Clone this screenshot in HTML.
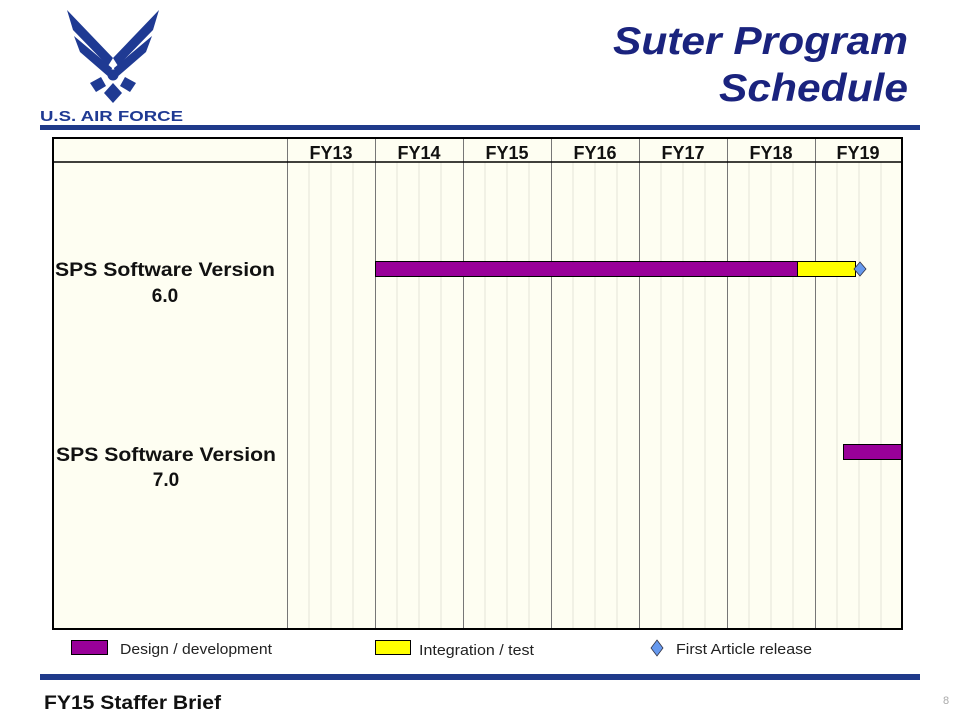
<!DOCTYPE html>
<html><head><meta charset="utf-8"><style>
html,body{margin:0;padding:0;background:#fff;}
svg{display:block;}
text{font-family:"Liberation Sans",Arial,sans-serif;}
</style></head><body>
<svg width="960" height="720" viewBox="0 0 960 720" xmlns="http://www.w3.org/2000/svg">
<!-- logo -->
<g fill="#1F3A93">
<polygon points="67,10 73,30 108,66 113,58"/>
<polygon points="74,36 80,52 110,78 112,68"/>
<polygon points="159,10 153,30 118,66 113,58"/>
<polygon points="152,36 146,52 116,78 114,68"/>
<circle cx="113" cy="75" r="5.5"/>
<polygon points="90,83 101,77 106,86 96,92"/>
<polygon points="136,83 125,77 120,86 130,92"/>
<polygon points="113,83 122,93 113,103 104,93"/>
</g>
<text x="40" y="121" font-size="15" font-weight="bold" fill="#1F3A93" textLength="143" lengthAdjust="spacingAndGlyphs">U.S. AIR FORCE</text>
<!-- title -->
<text x="613" y="54" font-size="39" font-weight="bold" font-style="italic" fill="#1A237E" textLength="295" lengthAdjust="spacingAndGlyphs">Suter Program</text>
<text x="719" y="101" font-size="39" font-weight="bold" font-style="italic" fill="#1A237E" textLength="189" lengthAdjust="spacingAndGlyphs">Schedule</text>
<rect x="40" y="125" width="880" height="5" fill="#1F3A8A"/>
<!-- table -->
<rect x="53" y="138" width="849" height="491" fill="#FEFEF2"/>
<g stroke="#E4E4D8" stroke-width="1">
<line x1="309" y1="162" x2="309" y2="629"/><line x1="331" y1="162" x2="331" y2="629"/><line x1="353" y1="162" x2="353" y2="629"/>
<line x1="397" y1="162" x2="397" y2="629"/><line x1="419" y1="162" x2="419" y2="629"/><line x1="441" y1="162" x2="441" y2="629"/>
<line x1="485" y1="162" x2="485" y2="629"/><line x1="507" y1="162" x2="507" y2="629"/><line x1="529" y1="162" x2="529" y2="629"/>
<line x1="573" y1="162" x2="573" y2="629"/><line x1="595" y1="162" x2="595" y2="629"/><line x1="617" y1="162" x2="617" y2="629"/>
<line x1="661" y1="162" x2="661" y2="629"/><line x1="683" y1="162" x2="683" y2="629"/><line x1="705" y1="162" x2="705" y2="629"/>
<line x1="749" y1="162" x2="749" y2="629"/><line x1="771" y1="162" x2="771" y2="629"/><line x1="793" y1="162" x2="793" y2="629"/>
<line x1="837" y1="162" x2="837" y2="629"/><line x1="859" y1="162" x2="859" y2="629"/><line x1="881" y1="162" x2="881" y2="629"/>
</g>
<g stroke="#777" stroke-width="1">
<line x1="287.5" y1="138" x2="287.5" y2="629"/><line x1="375.5" y1="138" x2="375.5" y2="629"/><line x1="463.5" y1="138" x2="463.5" y2="629"/>
<line x1="551.5" y1="138" x2="551.5" y2="629"/><line x1="639.5" y1="138" x2="639.5" y2="629"/><line x1="727.5" y1="138" x2="727.5" y2="629"/>
<line x1="815.5" y1="138" x2="815.5" y2="629"/>
</g>
<line x1="53" y1="162" x2="902" y2="162" stroke="#000" stroke-width="1.5"/>
<rect x="53" y="138" width="849" height="491" fill="none" stroke="#000" stroke-width="2"/>
<g font-size="18" font-weight="bold" fill="#111" text-anchor="middle">
<text x="331" y="159">FY13</text><text x="419" y="159">FY14</text><text x="507" y="159">FY15</text>
<text x="595" y="159">FY16</text><text x="683" y="159">FY17</text><text x="771" y="159">FY18</text><text x="858" y="159">FY19</text>
</g>
<g font-size="19" font-weight="bold" fill="#111">
<text x="55" y="276" textLength="220" lengthAdjust="spacingAndGlyphs">SPS Software Version</text>
<text x="165" y="302" text-anchor="middle">6.0</text>
<text x="56" y="461" textLength="220" lengthAdjust="spacingAndGlyphs">SPS Software Version</text>
<text x="166" y="486" text-anchor="middle">7.0</text>
</g>
<!-- bars -->
<rect x="375.5" y="261.5" width="422" height="15" fill="#990099" stroke="#000" stroke-width="1"/>
<rect x="797.5" y="261.5" width="58" height="15" fill="#FFFF00" stroke="#000" stroke-width="1"/>
<polygon points="860,262 866,269 860,276 854,269" fill="#6699EE" stroke="#334" stroke-width="0.8"/>
<rect x="843.5" y="444.5" width="58" height="15" fill="#990099" stroke="#000" stroke-width="1"/>
<!-- legend -->
<rect x="71.5" y="640.5" width="36" height="14" fill="#990099" stroke="#000" stroke-width="1"/>
<text x="120" y="654" font-size="15" fill="#222" textLength="152" lengthAdjust="spacingAndGlyphs">Design / development</text>
<rect x="375.5" y="640.5" width="35" height="14" fill="#FFFF00" stroke="#000" stroke-width="1"/>
<text x="419" y="655" font-size="15" fill="#222" textLength="115" lengthAdjust="spacingAndGlyphs">Integration  / test</text>
<polygon points="657,640 663,648 657,656 651,648" fill="#6699EE" stroke="#334" stroke-width="0.8"/>
<text x="676" y="654" font-size="15" fill="#222" textLength="136" lengthAdjust="spacingAndGlyphs">First Article release</text>
<rect x="40" y="674" width="880" height="6" fill="#1F3A8A"/>
<text x="44" y="709" font-size="19" font-weight="bold" fill="#111" textLength="177" lengthAdjust="spacingAndGlyphs">FY15 Staffer Brief</text>
<text x="943" y="704" font-size="11" fill="#aaa">8</text>
</svg>
</body></html>
